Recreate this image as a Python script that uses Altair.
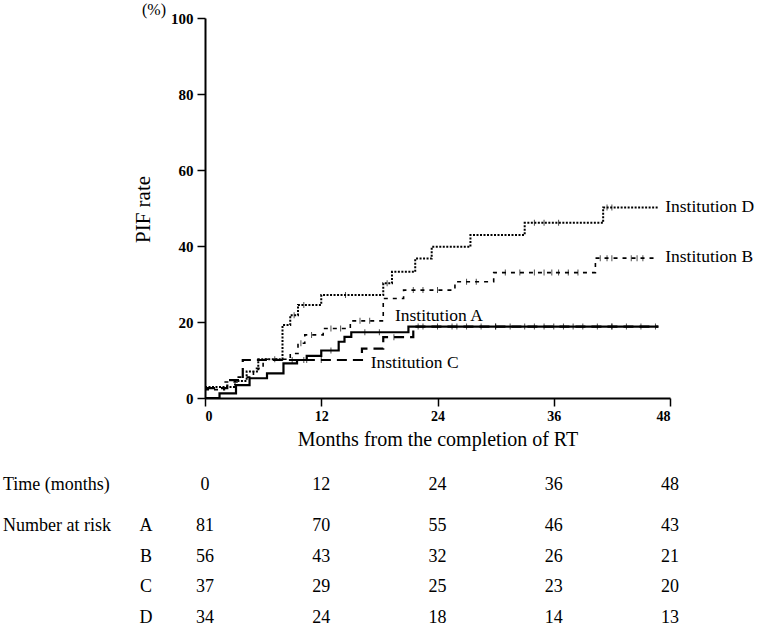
import altair as alt
import pandas as pd

FONT = "Liberation Serif"

month_ticks = [0, 12, 24, 36, 48]
pct_ticks = [0, 20, 40, 60, 80, 100]

# Step curves (months, cumulative PIF %)
A_t = [0, 1.5, 3.2, 4.6, 6.4, 8.1, 9.5, 10.5, 12.0, 13.8, 14.4, 15.1, 21.0, 46.8]
A_v = [0, 1.2, 3.4, 5.2, 6.5, 9.1, 10.0, 11.1, 12.5, 14.8, 16.1, 17.3, 18.8, 18.8]

B_t = [0, 2.0, 3.3, 5.0, 6.0, 8.8, 9.6, 10.3, 12.2, 15.0, 18.4, 20.5, 25.8, 29.8, 40.3, 46.8]
B_v = [2.2, 4.2, 5.5, 7.8, 10.2, 11.7, 14.4, 16.6, 18.3, 20.3, 26.2, 28.4, 30.6, 33.0, 36.8, 36.8]

C_t = [0, 2.3, 3.9, 16.2, 18.4, 21.5, 46.8]
C_v = [2.6, 4.7, 10.0, 13.0, 16.0, 18.8, 18.8]

D_t = [0, 3.1, 4.3, 5.5, 8.0, 8.8, 9.6, 12.0, 18.4, 19.3, 21.7, 23.4, 27.4, 33.0, 41.1, 46.8]
D_v = [2.9, 4.5, 7.0, 10.2, 19.2, 21.8, 24.5, 27.1, 30.2, 33.2, 36.7, 39.8, 42.9, 46.1, 50.1, 50.1]

# Censor marks (months)
A_cens = [10.2, 13.0, 16.5, 18.0, 22.5, 24.0, 25.5, 27.0, 28.5, 30.0, 31.5, 33.0, 34.0,
          35.0, 36.0, 37.0, 38.0, 39.0, 40.5, 42.0, 43.5, 45.0, 46.5]
B_cens = [9.9, 11.0, 13.0, 14.0, 16.0, 17.0, 21.5, 22.5, 24.0, 27.0, 28.0, 31.0, 32.5,
          34.0, 35.0, 35.8, 36.5, 37.5, 38.5, 40.8, 41.5, 42.0, 44.0, 44.6, 45.2]
C_cens = [9.0, 10.5, 12.0, 19.5, 22.0, 26.0, 30.0, 42.0]
D_cens = [7.2, 9.2, 10.2, 14.5, 18.8, 34.0, 35.0, 36.5, 41.5, 42.0]

names = ["A", "B", "C", "D"]
risk_A = [81, 70, 55, 46, 43]
risk_B = [56, 43, 32, 26, 21]
risk_C = [37, 29, 25, 23, 20]
risk_D = [34, 24, 18, 14, 13]

curves = {"A": (A_t, A_v, A_cens), "B": (B_t, B_v, B_cens),
          "C": (C_t, C_v, C_cens), "D": (D_t, D_v, D_cens)}

label_text = ["Institution A", "Institution B", "Institution C", "Institution D"]
label_t = [19.6, 47.5, 17.1, 47.5]
label_v = [21.6, 37.1, 9.2, 50.3]

styles = {"A": ([1, 0], 2.2), "B": ([4, 5], 1.6), "C": ([10, 6], 2.2), "D": ([2, 1.5], 2.0)}


def step_at(ts, vs, x):
    val = vs[0]
    for t, v in zip(ts, vs):
        if t <= x:
            val = v
    return val


xscale = alt.Scale(domain=[0, 48], nice=False, zero=False)
yscale = alt.Scale(domain=[0, 100], nice=False)

x_axis = alt.Axis(values=month_ticks, title="Months from the completion of RT",
                  labelFont=FONT, labelFontWeight="bold", labelFontSize=14,
                  labelColor="black", tickColor="black", tickSize=8, tickWidth=1.5,
                  domainColor="black", domainWidth=2, labelPadding=3, grid=False,
                  titleFont=FONT, titleFontSize=20, titleFontWeight="normal",
                  titleColor="black", titlePadding=6)
y_axis = alt.Axis(values=pct_ticks, title="PIF rate",
                  labelFont=FONT, labelFontWeight="bold", labelFontSize=15,
                  labelColor="black", tickColor="black", tickSize=8, tickWidth=1.5,
                  domainColor="black", domainWidth=2, labelPadding=4, grid=False,
                  titleFont=FONT, titleFontSize=21, titleFontWeight="normal",
                  titleColor="black", titleX=-52, titleY=191)

layers = []
for i, n in enumerate(names):
    ts, vs, cens = curves[n]
    df = pd.DataFrame({"t": ts, "v": vs})
    dash, w = styles[n]
    enc = dict(x=alt.X("t:Q", scale=xscale, axis=x_axis),
               y=alt.Y("v:Q", scale=yscale, axis=y_axis))
    line = alt.Chart(df).mark_line(interpolate="step-after", color="black",
                                   strokeWidth=w, strokeDash=dash).encode(**enc)
    layers.append(line)
    cdf = pd.DataFrame({"t": cens, "v": [step_at(ts, vs, c) for c in cens]})
    ticks = alt.Chart(cdf).mark_tick(orient="vertical", color="black", size=6,
                                     thickness=1).encode(
        x=alt.X("t:Q", scale=xscale), y=alt.Y("v:Q", scale=yscale))
    layers.append(ticks)

lab_df = pd.DataFrame({"t": label_t, "v": label_v, "text": label_text})
labels = alt.Chart(lab_df).mark_text(font=FONT, fontSize=17.5, align="left",
                                     baseline="middle", color="black").encode(
    x=alt.X("t:Q", scale=xscale), y=alt.Y("v:Q", scale=yscale), text="text:N")
layers.append(labels)

pct_df = pd.DataFrame({"text": ["(%)"]})
pct = alt.Chart(pct_df).mark_text(font=FONT, fontSize=16, align="left",
                                  baseline="middle", color="black").encode(
    x=alt.value(-63), y=alt.value(-8), text="text:N")
layers.append(pct)

main = alt.layer(*layers)

# Risk table
rows = ["Time"] + names
risk = {"A": risk_A, "B": risk_B, "C": risk_C, "D": risk_D}
recs = []
for m in month_ticks:
    recs.append({"row": "Time", "t": m, "text": str(m)})
for n in names:
    for m, r in zip(month_ticks, risk[n]):
        recs.append({"row": n, "t": m, "text": str(r)})
table_df = pd.DataFrame(recs)

row_scale = alt.Scale(type="point", domain=rows, range=[477, 600], padding=0)

nums = alt.Chart(table_df).transform_filter(alt.datum.row != "Time").mark_text(
    font=FONT, fontSize=18, baseline="middle", color="black").encode(
    x=alt.X("t:Q", scale=xscale),
    y=alt.Y("row:N", scale=row_scale, axis=None), text="text:N")
time_nums = alt.Chart(table_df).transform_filter(alt.datum.row == "Time").mark_text(
    font=FONT, fontSize=18, baseline="middle", color="black", dy=-10).encode(
    x=alt.X("t:Q", scale=xscale),
    y=alt.Y("row:N", scale=row_scale, axis=None), text="text:N")

head_df = pd.DataFrame({"row": ["Time", "A"], "text": ["Time (months)", "Number at risk"]})
head_time = alt.Chart(head_df).transform_filter(alt.datum.row == "Time").mark_text(
    font=FONT, fontSize=18, baseline="middle", align="left", color="black", dy=-10).encode(
    x=alt.value(-202), y=alt.Y("row:N", scale=row_scale, axis=None), text="text:N")
head_risk = alt.Chart(head_df).transform_filter(alt.datum.row == "A").mark_text(
    font=FONT, fontSize=18, baseline="middle", align="left", color="black").encode(
    x=alt.value(-202), y=alt.Y("row:N", scale=row_scale, axis=None), text="text:N")

let_df = pd.DataFrame({"row": names, "text": names})
letters = alt.Chart(let_df).mark_text(font=FONT, fontSize=18, baseline="middle",
                                      color="black").encode(
    x=alt.value(-59), y=alt.Y("row:N", scale=row_scale, axis=None), text="text:N")

table = alt.layer(nums, time_nums, head_time, head_risk, letters)

chart = alt.layer(main, table).resolve_scale(y="independent").properties(
    width=465, height=380,
    autosize=alt.AutoSizeParams(type="none"),
    padding={"left": 205, "top": 18, "right": 88, "bottom": 229},
    background="white",
).configure_view(stroke=None)

chart.save("out.html", embed_options={"renderer": "svg", "actions": False})
